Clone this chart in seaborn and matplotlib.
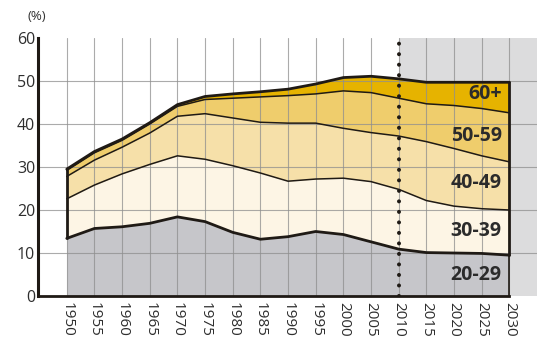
import numpy as np
import pandas as pd
import matplotlib
matplotlib.use("Agg")
import matplotlib.pyplot as plt
import seaborn as sns

# ---- data (share of population, %) ----
years = [1950, 1955, 1960, 1965, 1970, 1975, 1980, 1985, 1990,
         1995, 2000, 2005, 2010, 2015, 2020, 2025, 2030]
age_groups = ["20-29", "30-39", "40-49", "50-59", "60+"]
share_20_29 = [13.4, 15.7, 16.1, 16.9, 18.4, 17.3, 14.8, 13.2, 13.8, 15.0, 14.3, 12.6, 10.9, 10.1, 10.0, 9.9, 9.5]
share_30_39 = [9.2, 10.1, 12.3, 13.7, 14.2, 14.5, 15.5, 15.4, 12.9, 12.2, 13.1, 14.0, 13.9, 12.1, 10.9, 10.4, 10.5]
share_40_49 = [5.2, 5.8, 6.2, 7.3, 9.2, 10.6, 11.1, 11.8, 13.5, 13.0, 11.6, 11.4, 12.4, 13.7, 13.4, 12.3, 11.2]
share_50_59 = [1.4, 1.7, 1.6, 2.1, 2.3, 3.3, 4.6, 5.9, 6.4, 6.8, 8.7, 9.3, 8.8, 8.8, 10.0, 11.0, 11.4]
share_60_plus = [0.3, 0.3, 0.3, 0.3, 0.4, 0.7, 1.0, 1.2, 1.5, 2.3, 3.1, 3.8, 4.5, 5.0, 5.4, 6.1, 7.1]
projection_start = 2010
y_ticks = [0, 10, 20, 30, 40, 50, 60]

# ---- styling ----
fill_colors = ["#c6c6ca", "#fdf5e5", "#f6e0a9", "#efcd6c", "#e6b300"]
line_dark = "#1f1a15"

sns.set_theme(style="white")
plt.rcParams["font.family"] = ["Open Sans", "DejaVu Sans"]

shares = np.array([share_20_29, share_30_39, share_40_49, share_50_59, share_60_plus])
cum = np.cumsum(shares, axis=0)
yrs = np.array(years)

fig = plt.figure(figsize=(5.37, 3.40), dpi=100)
ax = fig.add_axes([38 / 537, 44 / 340, 1 - 38 / 537, 258 / 340])
ax.set_xlim(1944.8, 2035)
ax.set_ylim(0, 60)

# projection shading
ax.axvspan(projection_start, 2035, ymin=0, ymax=1, color="#dcdcdd", zorder=0, lw=0)

# stacked areas
lower = np.zeros(len(years))
for i, grp in enumerate(age_groups):
    ax.fill_between(yrs, lower, cum[i], color=fill_colors[i], lw=0, zorder=1)
    lower = cum[i]

# grid on top of fills
for y in y_ticks[1:-1]:
    ax.axhline(y, color="#8f8f8f", lw=0.8, alpha=0.75, zorder=2)
for x in years:
    ax.plot([x, x], [0, 60], color="#8f8f8f", lw=0.8, alpha=0.75, zorder=2)

# boundary lines via seaborn
long = pd.DataFrame({
    "year": np.tile(yrs, len(age_groups)),
    "value": cum.ravel(),
    "group": np.repeat(age_groups, len(years)),
})
for i, grp in enumerate(age_groups):
    d = long[long["group"] == grp]
    thick = grp in ("20-29", "60+")
    sns.lineplot(data=d, x="year", y="value", ax=ax, color=line_dark,
                 lw=2.0 if thick else 1.1, zorder=4, legend=False,
                 solid_joinstyle="round")

# side edges of the stack
for x, lo, hi in [(years[0], cum[0][0], cum[-1][0]), (years[-1], cum[0][-1], cum[-1][-1])]:
    ax.plot([x, x], [lo, hi], color=line_dark, lw=2.0, zorder=4, solid_capstyle="round")
ax.plot([years[-1], years[-1]], [0, cum[0][-1]], color=line_dark, lw=1.2, zorder=4)

# dotted projection line
ax.plot([projection_start, projection_start], [0, 60], color=line_dark, lw=2.9,
        linestyle=(0, (0.01, 2.6)), dash_capstyle="round", zorder=5)

# group labels
label_y = [4.9, 15.0, 26.3, 37.1, 46.9]
for grp, yy in zip(age_groups, label_y):
    ax.text(2028.6, yy, grp, ha="right", va="center", fontsize=14,
            fontweight="bold", color="#2b2b2b", zorder=6)

# axes
ax.set_xticks(years)
ax.set_xticklabels([str(y) for y in years], rotation=-90, fontsize=11, color="#2e2e2e")
ax.set_yticks(y_ticks)
ax.set_yticklabels([str(v) for v in y_ticks], fontsize=11.5, color="#2e2e2e")
ax.tick_params(axis="both", length=0)
ax.tick_params(axis="x", pad=4)
ax.tick_params(axis="y", pad=2)
ax.set_xlabel("")
ax.set_ylabel("")
for s in ["top", "right"]:
    ax.spines[s].set_visible(False)
ax.spines["left"].set_color(line_dark)
ax.spines["left"].set_linewidth(2.2)
ax.spines["bottom"].set_color(line_dark)
ax.spines["bottom"].set_linewidth(2.0)
ax.spines["bottom"].set_bounds(1944.8, 2030)
ax.spines["left"].set_zorder(6)
ax.spines["bottom"].set_zorder(6)
ax.set_facecolor("white")

fig.text(37 / 537, 1 - 17 / 340, "(%)", ha="center", va="center", fontsize=9.5, color="#333333")

fig.savefig("out.png", dpi=100)
